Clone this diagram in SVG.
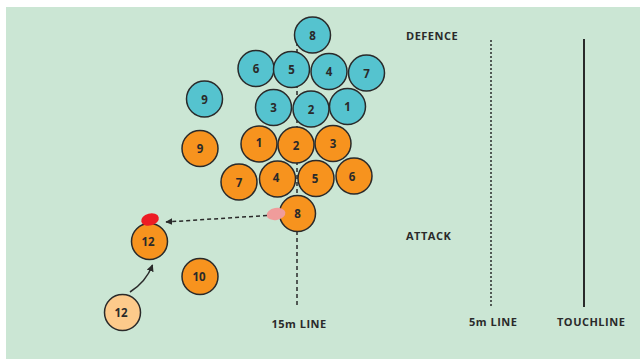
<svg xmlns="http://www.w3.org/2000/svg" width="640" height="359" viewBox="0 0 640 359">
<style>
.bg{fill:#cbe6d4}
.p{stroke:#2a2a2a;stroke-width:1.5}
.d{fill:#55c3cf}
.a{fill:#f7931e}
.s{fill:#fdca8b}
.n{font-family:"Open Sans","DejaVu Sans",sans-serif;font-weight:bold;font-size:11.5px;fill:#2a2a2a;text-anchor:middle;dominant-baseline:central}
.lab{font-family:"Open Sans","DejaVu Sans",sans-serif;font-weight:bold;font-size:11px;fill:#2a2a2a;letter-spacing:0.5px}
</style>
<defs>
<marker id="ah" viewBox="0 0 10 10" refX="9" refY="5" markerWidth="7" markerHeight="7" orient="auto" markerUnits="userSpaceOnUse">
<path d="M0,0 L10,5 L0,10 z" fill="#2a2a2a"/>
</marker>
</defs>
<rect class="bg" x="6" y="7" width="634" height="352"/>
<g id="lines">
<line x1="297" y1="35" x2="297" y2="305" stroke="#2a2a2a" stroke-width="1.5" stroke-dasharray="4,3"/>
<line x1="491" y1="40" x2="491" y2="308" stroke="#2a2a2a" stroke-width="1.5" stroke-dasharray="2,2"/>
<line x1="584" y1="39" x2="584" y2="307" stroke="#2a2a2a" stroke-width="2"/>
</g>
<g id="defence">
<g id="d8"><circle class="p d" cx="312.5" cy="35" r="18"/><text class="n" x="312.5" y="35">8</text></g>
<g id="d6"><circle class="p d" cx="256" cy="68.5" r="18"/><text class="n" x="256" y="68.5">6</text></g>
<g id="d5"><circle class="p d" cx="291.5" cy="69.5" r="18"/><text class="n" x="291.5" y="69.5">5</text></g>
<g id="d4"><circle class="p d" cx="329" cy="71.5" r="18"/><text class="n" x="329" y="71.5">4</text></g>
<g id="d7"><circle class="p d" cx="366.5" cy="73" r="18"/><text class="n" x="366.5" y="73">7</text></g>
<g id="d9"><circle class="p d" cx="204.5" cy="99" r="18"/><text class="n" x="204.5" y="99">9</text></g>
<g id="d3"><circle class="p d" cx="273.5" cy="107.5" r="18"/><text class="n" x="273.5" y="107.5">3</text></g>
<g id="d2"><circle class="p d" cx="311" cy="109" r="18"/><text class="n" x="311" y="109">2</text></g>
<g id="d1"><circle class="p d" cx="347.5" cy="106.5" r="18"/><text class="n" x="347.5" y="106.5">1</text></g>
</g>
<g id="attack">
<g id="a9"><circle class="p a" cx="200" cy="148.5" r="18"/><text class="n" x="200" y="148.5">9</text></g>
<g id="a1"><circle class="p a" cx="259" cy="144" r="18"/><text class="n" x="259" y="142">1</text></g>
<g id="a2"><circle class="p a" cx="296" cy="145" r="18"/><text class="n" x="296" y="145">2</text></g>
<g id="a3"><circle class="p a" cx="333" cy="143.5" r="18"/><text class="n" x="333" y="143.5">3</text></g>
<g id="a7"><circle class="p a" cx="239" cy="182" r="18"/><text class="n" x="239" y="182">7</text></g>
<g id="a4"><circle class="p a" cx="277.5" cy="179" r="18"/><text class="n" x="276" y="177">4</text></g>
<g id="a5"><circle class="p a" cx="316" cy="178.5" r="18"/><text class="n" x="315" y="178.5">5</text></g>
<g id="a6"><circle class="p a" cx="354" cy="176" r="18"/><text class="n" x="352" y="176">6</text></g>
<g id="a8"><circle class="p a" cx="297.5" cy="213.5" r="18"/><text class="n" x="297.5" y="213.5">8</text></g>
<g id="a12"><circle class="p a" cx="149.5" cy="241.5" r="18"/><text class="n" x="148" y="241.5">12</text></g>
<g id="a10"><circle class="p a" cx="200" cy="276.5" r="18"/><text class="n" x="199" y="276.5">10</text></g>
<g id="s12"><circle class="p s" cx="122.5" cy="312.5" r="18"/><text class="n" x="121" y="312.5">12</text></g>
</g>
<g id="ball">
<ellipse cx="276" cy="214" rx="9.5" ry="6" fill="#f09c9b" transform="rotate(-10 276 214)"/>
<ellipse cx="150" cy="219.5" rx="9" ry="6" fill="#ed1c24" transform="rotate(-15 150 219.5)"/>
</g>
<g id="connectors" fill="none" stroke="#2a2a2a" stroke-width="1.5">
<path d="M267,215.5 L166,222" stroke-dasharray="4,3" marker-end="url(#ah)"/>
<path d="M130,292 Q146,282 152.5,265" marker-end="url(#ah)"/>
</g>
<g id="labels">
<text class="lab" x="406" y="40">DEFENCE</text>
<text class="lab" x="406" y="240">ATTACK</text>
<text class="lab" x="271.5" y="327.5">15m LINE</text>
<text class="lab" x="469" y="326">5m LINE</text>
<text class="lab" x="557" y="326">TOUCHLINE</text>
</g>
</svg>
